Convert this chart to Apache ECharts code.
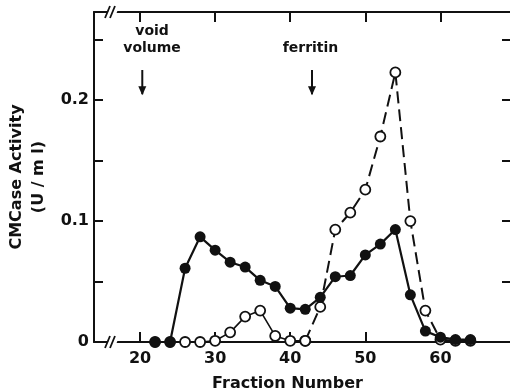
<!DOCTYPE html>
<html>
<head>
<meta charset="utf-8">
<script src="https://cdn.jsdelivr.net/npm/echarts@6/dist/echarts.min.js"></script>
<style>
html, body { margin: 0; padding: 0; background: #fff; }
#chart { width: 510px; height: 392px; }
</style>
</head>
<body>
<div id="chart"></div>
<script>
// fraction numbers (x) and CMCase activity (U/ml)
const fractions = [22, 24, 26, 28, 30, 32, 34, 36, 38, 40, 42, 44, 46, 48, 50, 52, 54, 56, 58, 60, 62, 64];
const filledActivity = [0, 0, 0.061, 0.087, 0.076, 0.066, 0.062, 0.051, 0.046, 0.028, 0.027, 0.037, 0.054, 0.055, 0.072, 0.081, 0.093, 0.039, 0.009, 0.004, 0.002, 0.002];
const openActivity = [0, 0, 0, 0, 0.001, 0.008, 0.021, 0.026, 0.005, 0.001, 0.001, 0.029, 0.093, 0.107, 0.126, 0.170, 0.223, 0.100, 0.026, 0.002, 0.001, 0.001];
const dashFrom = 42; // open-circle curve is dashed from this fraction on
const xTicks = [20, 30, 40, 50, 60];
const yTicks = [0, 0.05, 0.1, 0.15, 0.2, 0.25];
const yLabels = ['0', '', '0.1', '', '0.2', ''];
const annotations = [
    { text: 'void\nvolume', arrowAt: 20.3, textAt: 21.6 },
    { text: 'ferritin', arrowAt: 42.9, textAt: 42.7 },
];
const axisBreakAt = 16;

const xMin = 13.87, xMax = 69.4, yMax = 0.273;
const ink = '#111';
const font = 'DejaVu Sans';

const filledData = fractions.map((f, i) => [f, filledActivity[i]]);
const openSolid = fractions.map((f, i) => [f, openActivity[i]]).filter(d => d[0] <= dashFrom);
const openDashed = fractions.map((f, i) => [f, openActivity[i]]).filter(d => d[0] >= dashFrom);

const chart = echarts.init(document.getElementById('chart'));

const xAxisBase = {
    type: 'value',
    min: xMin,
    max: xMax,
    splitLine: { show: false },
    axisLine: { onZero: false, lineStyle: { color: ink, width: 2 } },
    axisTick: { inside: true, length: 10, customValues: xTicks, lineStyle: { color: ink, width: 2 } },
};
const yAxisBase = {
    type: 'value',
    min: 0,
    max: yMax,
    splitLine: { show: false },
    axisLine: { show: true, onZero: false, lineStyle: { color: ink, width: 2 } },
    axisTick: { inside: true, length: 9, customValues: yTicks, lineStyle: { color: ink, width: 2 } },
};

const option = {
    animation: false,
    backgroundColor: '#fff',
    grid: { left: 94, right: -1, top: 12, bottom: 50, outerBoundsMode: 'none', containLabel: false },
    xAxis: [
        Object.assign({}, xAxisBase, {
            position: 'bottom',
            name: 'Fraction Number',
            nameLocation: 'middle',
            nameGap: 34,
            nameTextStyle: { fontFamily: font, fontSize: 16, fontWeight: 'bold', color: ink, padding: [0, 30, 0, 0] },
            axisLabel: {
                customValues: xTicks,
                margin: 9,
                fontFamily: font,
                fontSize: 16,
                fontWeight: 'bold',
                color: ink,
            },
        }),
        Object.assign({}, xAxisBase, {
            position: 'top',
            axisLabel: { show: false },
        }),
    ],
    yAxis: [
        Object.assign({}, yAxisBase, {
            position: 'left',
            name: 'CMCase Activity\n(U / m l)',
            nameLocation: 'middle',
            nameGap: 35,
            nameTextStyle: { fontFamily: font, fontSize: 16, fontWeight: 'bold', color: ink, lineHeight: 22 },
            axisLabel: {
                customValues: yTicks,
                formatter: v => yLabels[yTicks.findIndex(t => Math.abs(t - v) < 1e-9)] || '',
                margin: 5,
                fontFamily: font,
                fontSize: 16,
                fontWeight: 'bold',
                color: ink,
            },
        }),
        Object.assign({}, yAxisBase, {
            position: 'right',
            axisLabel: { show: false },
        }),
    ],
    series: [
        {
            type: 'line',
            data: openSolid,
            symbol: 'circle',
            symbolSize: 10,
            lineStyle: { color: ink, width: 1.6 },
            itemStyle: { color: '#fff', borderColor: ink, borderWidth: 1.8 },
            z: 3,
        },
        {
            type: 'line',
            data: openDashed,
            symbol: 'circle',
            symbolSize: 10,
            lineStyle: { color: ink, width: 2, type: [12, 6] },
            itemStyle: { color: '#fff', borderColor: ink, borderWidth: 1.8 },
            z: 3,
        },
        {
            type: 'line',
            data: filledData,
            symbol: 'circle',
            symbolSize: 11,
            lineStyle: { color: ink, width: 2.2 },
            itemStyle: { color: ink },
            z: 4,
        },
        {
            // axis break marks on the bottom and top axes
            type: 'custom',
            silent: true,
            z: 5,
            data: [[axisBreakAt, 0], [axisBreakAt, yMax]],
            renderItem: (params, api) => {
                const p = api.coord([api.value(0), api.value(1)]);
                const children = [{
                    type: 'polygon',
                    shape: { points: [[p[0] - 4, p[1] + 5], [p[0] + 5, p[1] + 5], [p[0] + 9, p[1] - 5], [p[0], p[1] - 5]] },
                    style: { fill: '#fff' },
                }];
                for (let i = 0; i < 2; i++) {
                    children.push({
                        type: 'line',
                        shape: { x1: p[0] - 5 + i * 5, y1: p[1] + 6, x2: p[0] + 0 + i * 5, y2: p[1] - 6 },
                        style: { stroke: ink, lineWidth: 1.8 },
                    });
                }
                return { type: 'group', children };
            },
        },
        {
            // arrows with labels
            type: 'custom',
            silent: true,
            z: 5,
            data: annotations.map(a => [a.arrowAt, a.textAt]),
            renderItem: (params, api) => {
                const a = annotations[params.dataIndex];
                const top = api.coord([api.value(0), 0.225]);
                const bot = api.coord([api.value(0), 0.205]);
                const txt = api.coord([api.value(1), 0.2355]);
                return {
                    type: 'group',
                    children: [
                        { type: 'line', shape: { x1: top[0], y1: top[1], x2: bot[0], y2: bot[1] }, style: { stroke: ink, lineWidth: 2 } },
                        { type: 'polygon', shape: { points: [[bot[0] - 4, bot[1] - 8], [bot[0] + 4, bot[1] - 8], [bot[0], bot[1] + 1]] }, style: { fill: ink } },
                        {
                            type: 'text',
                            x: txt[0],
                            y: txt[1],
                            style: {
                                text: a.text,
                                fontFamily: font,
                                fontSize: 14,
                                fontWeight: 'bold',
                                lineHeight: 17,
                                fill: ink,
                                align: 'center',
                                verticalAlign: 'bottom',
                            },
                        },
                    ],
                };
            },
        },
    ],
};
chart.setOption(option);
</script>
</body>
</html>
